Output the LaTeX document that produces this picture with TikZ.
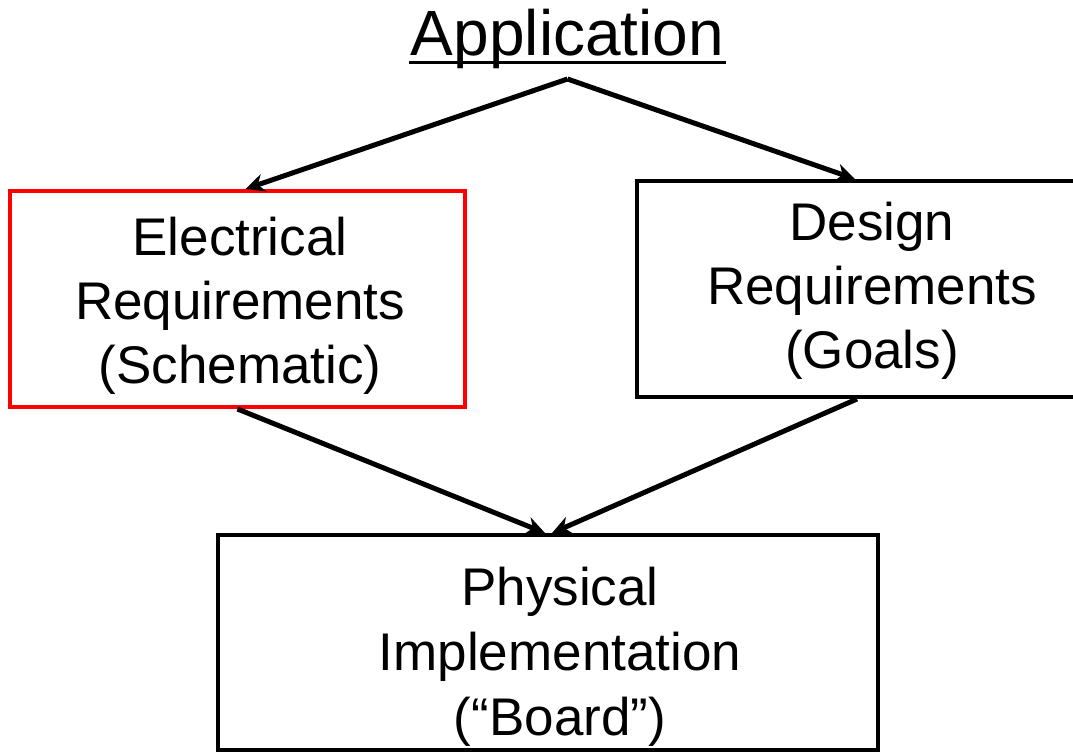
\documentclass[tikz,border=0pt]{standalone}
\usepackage{fontspec}
\setmainfont{Liberation Sans}
\usetikzlibrary{arrows.meta}

\begin{document}
\begin{tikzpicture}[x=1pt, y=-1pt, line width=4pt,
  >={Stealth[length=19pt, width=18pt, inset=6pt]},
  box/.style={draw, rectangle, inner sep=0pt, minimum height=216pt},
  boxtext/.style={align=center, font=\fontsize{53}{64}\selectfont},
  link/.style={->, line width=5pt}]
  \useasboundingbox (0,0) rectangle (1073,753);
  \clip (0,0) rectangle (1073,753);
  \node[inner sep=0pt, anchor=base, font=\fontsize{64}{70}\selectfont] (app) at (567.5,55) {Application};
  \draw[line width=3pt] ([yshift=-7pt]app.base west) -- ([yshift=-7pt]app.base east);
  \coordinate (apex) at ([yshift=-24pt]app.base);
  \node[box, draw=red, minimum width=455pt,
    label={[boxtext, xshift=2.5pt, yshift=-6.5pt]center:{Electrical\\Requirements\\(Schematic)}}]
    (elec) at (237.5,299) {};
  \node[box, minimum width=470pt,
    label={[boxtext, yshift=-1.5pt]center:{Design\\Requirements\\(Goals)}}]
    (dsgn) at (872,289) {};
  \node[box, minimum width=660pt, minimum height=215pt,
    label={[boxtext, font=\fontsize{53}{65}\selectfont, xshift=12pt, yshift=-14.5pt]center:{Physical\\Implementation\\(“Board”)}}]
    (impl) at (548,642.5) {};
  \draw[link] (apex) -- ([xshift=8pt]elec.north);
  \draw[link] (apex) -- ([xshift=-17pt]dsgn.north);
  \draw[link] (elec.south) -- ([xshift=-3pt]impl.north);
  \draw[link] ([xshift=-15pt]dsgn.south) -- ([xshift=4pt]impl.north);
\end{tikzpicture}
\end{document}
